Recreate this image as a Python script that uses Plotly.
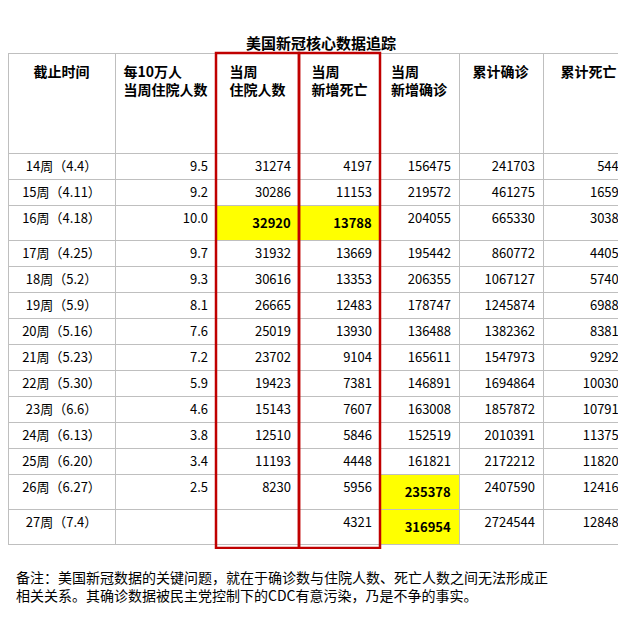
import plotly.graph_objects as go

weeks = ["14周（4.4）","15周（4.11）","16周（4.18）","17周（4.25）","18周（5.2）","19周（5.9）","20周（5.16）",
         "21周（5.23）","22周（5.30）","23周（6.6）","24周（6.13）","25周（6.20）","26周（6.27）","27周（7.4）"]
hosp_per100k = ["9.5","9.2","10.0","9.7","9.3","8.1","7.6","7.2","5.9","4.6","3.8","3.4","2.5",""]
hosp_week = [31274,30286,32920,31932,30616,26665,25019,23702,19423,15143,12510,11193,8230,None]
new_deaths = [4197,11153,13788,13669,13353,12483,13930,9104,7381,7607,5846,4448,5956,4321]
new_cases = [156475,219572,204055,195442,206355,178747,136488,165611,146891,163008,152519,161821,235378,316954]
cum_cases = [241703,461275,665330,860772,1067127,1245874,1382362,1547973,1694864,1857872,2010391,2172212,2407590,2724544]
cum_deaths = [5443,16596,30384,44053,57406,69889,83819,92923,100304,107911,113757,118205,124161,128482]
headers = ["截止时间","每10万人<br>当周住院人数","当周<br>住院人数","当周<br>新增死亡","当周<br>新增确诊","累计确诊","累计死亡"]

def s(v): return "" if v is None else str(v)
cols = [weeks, hosp_per100k, [s(v) for v in hosp_week], [s(v) for v in new_deaths],
        [s(v) for v in new_cases], [s(v) for v in cum_cases], [s(v) for v in cum_deaths]]
n = len(weeks)
Y = "#FFFF00"
fills = [["white"]*n for _ in cols]
fills[2][2] = Y; fills[3][2] = Y; fills[4][12] = Y; fills[4][13] = Y
for ci, ri in [(2,2),(3,2),(4,12),(4,13)]:
    cols[ci][ri] = "<b>" + cols[ci][ri] + "</b>"

# vertical centring of header text
hdr = []
for h in headers:
    pad = "<br>" if "<br>" in h else "<br><br>"
    hdr.append(pad + "<b>" + h.replace("<br>", "</b><br><b>") + "</b>")

W, H = 626, 619
fig = go.Figure(go.Table(
    columnwidth=[107,101,83,81,79,84,91],
    header=dict(values=hdr, height=100,
                align="center", fill_color="white", line_color="#BFBFBF",
                font=dict(family="Noto Sans CJK SC", size=14, color="black")),
    cells=dict(values=cols, height=26, align=["center"]+["right"]*6,
               fill_color=fills, line_color="#BFBFBF",
               font=dict(family="Noto Sans CJK SC", size=13, color="black")),
    domain=dict(x=[0,1], y=[0, 1-45/H])))

for x0, x1 in [(208,291),(291,372)]:
    fig.add_shape(type="rect", xref="paper", yref="paper", x0=x0/W, x1=x1/W,
                  y0=1-540/H, y1=1-45/H, line=dict(color="#C00000", width=2.5))

fig.add_shape(type="rect", xref="paper", yref="paper", x0=0, x1=1, y0=0, y1=1-541/H,
              fillcolor="white", line=dict(width=0), layer="above")
fig.add_annotation(text="<b>美国新冠核心数据追踪</b>", x=0.5, y=1-22/H, xref="paper", yref="paper",
                   showarrow=False, font=dict(family="Noto Sans CJK SC", size=15, color="black"))
fig.add_annotation(text="备注：美国新冠数据的关键问题，就在于确诊数与住院人数、死亡人数之间无法形成正<br>相关关系。其确诊数据被民主党控制下的CDC有意污染，乃是不争的事实。",
                   x=6/W, y=1-578/H, xref="paper", yref="paper", xanchor="left", yanchor="middle",
                   align="left", showarrow=False,
                   font=dict(family="Noto Sans CJK SC", size=14, color="black"))
fig.update_layout(width=W, height=H, margin=dict(l=0,r=0,t=0,b=0), paper_bgcolor="white")
fig.write_html("out.html")
